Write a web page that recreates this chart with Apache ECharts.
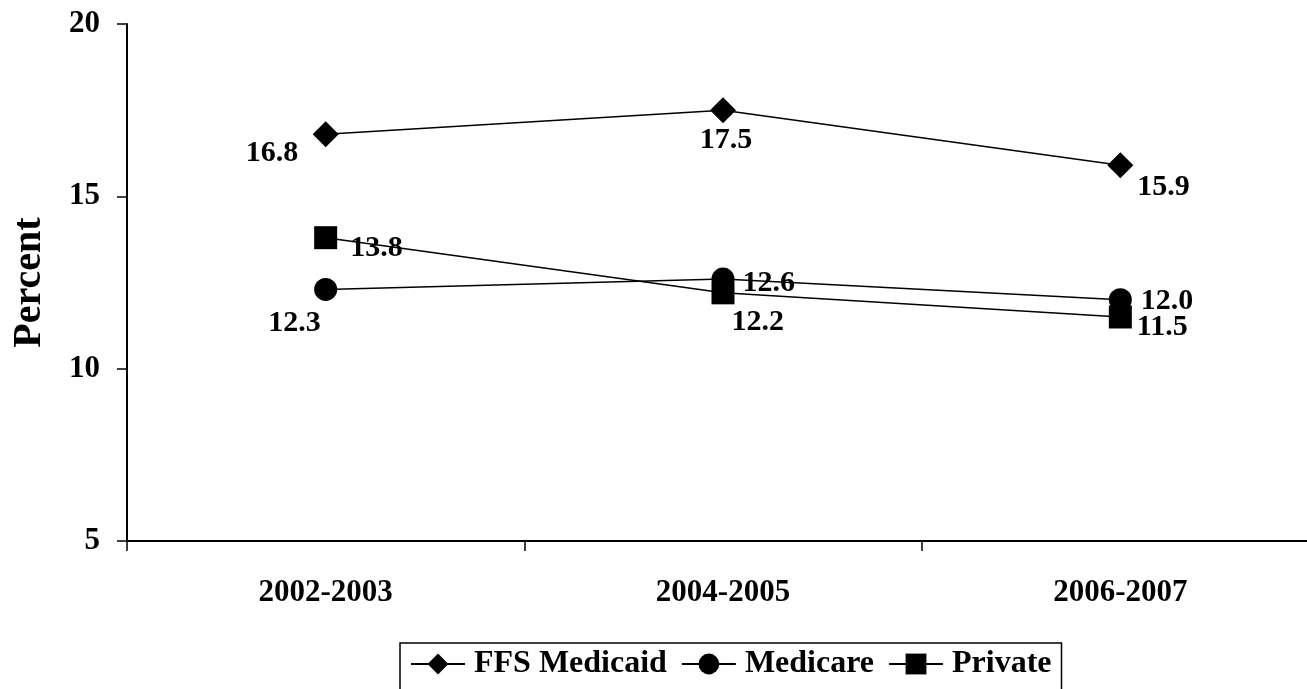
<!DOCTYPE html>
<html><head><meta charset="utf-8">
<script src="https://cdn.jsdelivr.net/npm/echarts@6/dist/echarts.min.js"></script>
<style>html,body{margin:0;padding:0;background:#fff}#c{width:1307px;height:689px}</style>
</head><body><div id="c"></div>
<script>
const categories = ['2002-2003', '2004-2005', '2006-2007'];
const medicaid = [16.8, 17.5, 15.9];
const medicare = [12.3, 12.6, 12.0];
const privateIns = [13.8, 12.2, 11.5];
const yTicks = [5, 10, 15, 20];

const FONT = 'Liberation Serif';
const lblStyle = {show: true, color: '#000', fontFamily: FONT, fontWeight: 'bold', fontSize: 30,
  align: 'left', verticalAlign: 'middle', formatter: p => p.value.toFixed(1)};
function withLabels(vals, pos) {
  return vals.map((v, i) => ({value: v, label: Object.assign({}, lblStyle, pos[i])}));
}
const chart = echarts.init(document.getElementById('c'));
chart.setOption({
  animation: false,
  backgroundColor: '#fff',
  grid: {left: 127, width: 1192, top: 24, bottom: 148, containLabel: false, outerBoundsMode: 'none'},
  xAxis: {
    type: 'category', data: categories, boundaryGap: true,
    axisLine: {lineStyle: {color: '#000', width: 2}},
    axisTick: {show: true, length: 10, lineStyle: {color: '#000', width: 1.5}},
    axisLabel: {color: '#000', fontFamily: FONT, fontWeight: 'bold', fontSize: 31, margin: 36}
  },
  yAxis: {
    type: 'value', min: 5, max: 20, interval: 5,
    name: 'Percent', nameLocation: 'middle', nameGap: 77,
    nameTextStyle: {color: '#000', fontFamily: FONT, fontWeight: 'bold', fontSize: 40},
    axisLine: {show: true, lineStyle: {color: '#000', width: 2}},
    axisTick: {show: true, length: 10, lineStyle: {color: '#000', width: 1.5}},
    splitLine: {show: false},
    axisLabel: {color: '#000', fontFamily: FONT, fontWeight: 'bold', fontSize: 31, margin: 27,
      formatter: v => yTicks.includes(v) ? String(v) : ''}
  },
  legend: {
    left: 400, top: 643,
    borderColor: '#000', borderWidth: 1.5, padding: [5, 10, 40, 10],
    itemGap: 14, itemWidth: 54, itemHeight: 26,
    textStyle: {color: '#000', fontFamily: FONT, fontWeight: 'bold', fontSize: 32, padding: [0, 0, 0, 4]},
    data: ['FFS Medicaid', 'Medicare', 'Private']
  },
  series: [
    {name: 'FFS Medicaid', type: 'line', symbol: 'diamond', symbolSize: 26,
      itemStyle: {color: '#000'}, lineStyle: {color: '#000', width: 1.5},
      data: withLabels(medicaid, [
        {position: [-67, 32]}, {position: [16, 43], align: 'center'}, {position: [30, 35]}])},
    {name: 'Medicare', type: 'line', symbol: 'circle', symbolSize: 23,
      itemStyle: {color: '#000'}, lineStyle: {color: '#000', width: 1.5},
      data: withLabels(medicare, [
        {position: [-46, 45]}, {position: [31, 16]}, {position: [32, 13]}])},
    {name: 'Private', type: 'line', symbol: 'rect', symbolSize: 23,
      itemStyle: {color: '#000'}, lineStyle: {color: '#000', width: 1.5},
      data: withLabels(privateIns, [
        {position: [36, 22]}, {position: [20, 41]}, {position: [28, 22]}])}
  ]
});
</script></body></html>
